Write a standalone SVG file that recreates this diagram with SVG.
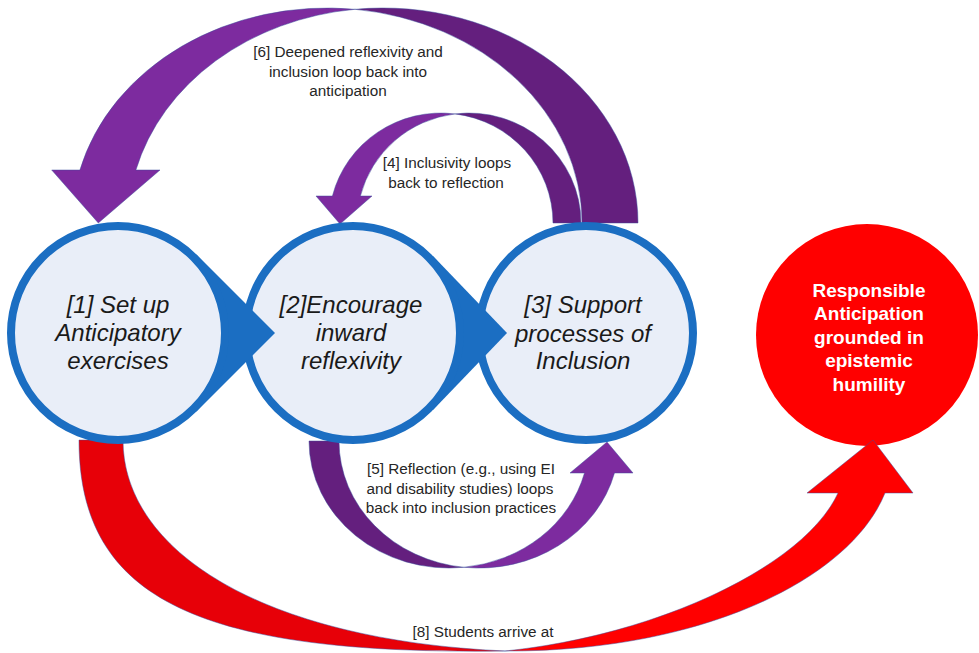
<svg xmlns="http://www.w3.org/2000/svg" width="979" height="653" viewBox="0 0 979 653">
  <style>
    .ann { font-family: "Liberation Sans", Arial, sans-serif; font-size: 15.3px; fill: #262626; text-anchor: middle; }
    .node { font-family: "Liberation Sans", Arial, sans-serif; font-style: italic; font-size: 24px; fill: #1a1a1a; text-anchor: middle; }
    .goal { font-family: "Liberation Sans", Arial, sans-serif; font-weight: bold; font-size: 19px; fill: #ffffff; text-anchor: middle; }
    .circ { fill: #e9eef8; stroke: #1b6ec2; stroke-width: 8; }
    .ptr { fill: #1b6ec2; }
    .edge { stroke: #3c4f9c; stroke-width: 0.8; stroke-opacity: 0.6; stroke-linejoin: round; }
    .pf { fill: #7d2b9f; }
    .pb { fill: #641f7e; }
    .rf { fill: #ff0000; }
    .rb { fill: #e70008; }
  </style>
  <rect width="979" height="653" fill="#ffffff"/>

  <g id="goal">
    <circle cx="867" cy="335" r="111" fill="#ff0000"/>
    <text class="goal" x="869" y="297">Responsible</text>
    <text class="goal" x="869" y="320.4">Anticipation</text>
    <text class="goal" x="869" y="343.8">grounded in</text>
    <text class="goal" x="869" y="367.2">epistemic</text>
    <text class="goal" x="869" y="390.6">humility</text>
  </g>

  <g id="connectors">
    <g id="arrow6">
      <path class="pb edge" d="M355,9.3 A255,215 0 0,1 638,223 L582,223 A255,215 0 0,0 355,9.3 Z"/>
      <path class="pf edge" d="M355,9.3 A255,215 0 0,0 79.9,170 L51.7,170 L98.3,223 L160,170 L135.9,170 A255,215 0 0,1 355,9.3 Z"/>
      <text class="ann" x="348" y="57">[6] Deepened reflexivity and</text>
      <text class="ann" x="348" y="77">inclusion loop back into</text>
      <text class="ann" x="348" y="96">anticipation</text>
    </g>
    <g id="arrow4">
      <path class="pb edge" d="M455,113.9 A112,110 0 0,1 581,223 L553,223 A112,110 0 0,0 455,113.9 Z"/>
      <path class="pf edge" d="M455,113.9 A112,110 0 0,0 332.4,196 L316,196 L340,224 L372,196 L360.4,196 A112,110 0 0,1 455,113.9 Z"/>
      <text class="ann" x="447" y="168">[4] Inclusivity loops</text>
      <text class="ann" x="446" y="188">back to reflection</text>
    </g>
    <g id="arrow5">
      <path class="pb edge" d="M464,567.3 A140,127 0 0,1 309,441 L339,441 A140,127 0 0,0 464,567.3 Z"/>
      <path class="pf edge" d="M464,567.3 A140,127 0 0,0 614.5,473 L633,473 L607,442 L570,473 L584.5,473 A140,127 0 0,1 464,567.3 Z"/>
      <text class="ann" x="461" y="474">[5] Reflection (e.g., using EI</text>
      <text class="ann" x="460" y="494">and disability studies) loops</text>
      <text class="ann" x="461" y="513">back into inclusion practices</text>
    </g>
    <g id="arrow8">
      <path class="rb edge" d="M79,440 C79,600 200,655 505,651 C260,640 123,550 123,440 Z"/>
      <path class="rf edge" d="M505,651 C700,652 850,580 885,493 L913,493 L873,440 L807,493 L838,493 C805,565 660,635 505,651 Z"/>
      <text class="ann" x="483" y="637">[8] Students arrive at</text>
    </g>
  </g>

  <g id="step3">
    <circle class="circ" cx="586" cy="333" r="107"/>
    <text class="node" x="583" y="313">[3] Support</text>
    <text class="node" x="583" y="342">processes of</text>
    <text class="node" x="583" y="369">Inclusion</text>
  </g>

  <g id="step2">
    <polygon class="ptr" points="353,333 433,256 507,333 433,410"/>
    <circle class="circ" cx="353" cy="333" r="107"/>
    <text class="node" x="351" y="313">[2]Encourage</text>
    <text class="node" x="351" y="341">inward</text>
    <text class="node" x="351" y="369">reflexivity</text>
  </g>

  <g id="step1">
    <polygon class="ptr" points="118,333 196.5,254.5 275,333 196.5,411.5"/>
    <circle class="circ" cx="118" cy="333" r="107"/>
    <text class="node" x="118" y="313">[1] Set up</text>
    <text class="node" x="118" y="341">Anticipatory</text>
    <text class="node" x="118" y="369">exercises</text>
  </g>
</svg>
